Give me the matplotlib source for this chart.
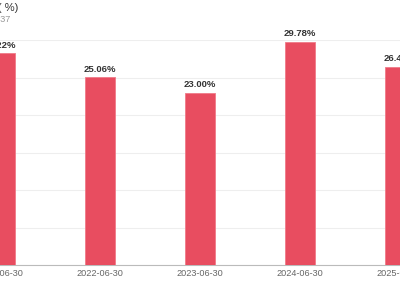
import matplotlib.pyplot as plt

plt.rcParams['font.family'] = ['Liberation Sans', 'Noto Sans CJK SC', 'DejaVu Sans']

dates = ["2021-06-30", "2022-06-30", "2023-06-30", "2024-06-30", "2025-06-30"]
values = [28.22, 25.06, 23.00, 29.78, 26.44]

bar_color = "#E84D60"

fig = plt.figure(figsize=(4, 3), dpi=100)
ax = fig.add_axes([0, 35 / 300, 1, 225 / 300])

x = list(range(len(dates)))
ax.bar(x, values, width=0.3, color=bar_color, edgecolor="#F07A88", linewidth=0.6, zorder=3)

for xi, v in zip(x, values):
    ax.text(xi, v + 0.45, f"{v:.2f}%", ha="center", va="bottom",
            fontsize=6.8, fontweight="bold", color="#333333")

ax.set_xlim(0, 4)
ax.set_ylim(0, 30)
ax.set_yticks([0, 5, 10, 15, 20, 25, 30])
ax.yaxis.grid(True, color="#eeeeee", linewidth=0.8, zorder=0)
ax.set_yticklabels([])
ax.tick_params(axis="y", length=0)
ax.set_xticks(x)
ax.set_xticklabels(dates, fontsize=6.6, color="#666666")
ax.tick_params(axis="x", length=0, pad=3)

for side in ["top", "right", "left"]:
    ax.spines[side].set_visible(False)
ax.spines["bottom"].set_color("#bbbbbb")
ax.spines["bottom"].set_linewidth(0.8)

fig.text(18 / 400, 1 - 7 / 300, "净资产收益率 ( %)", ha="right", va="center",
         fontsize=8, color="#333333")
fig.text(10 / 400, 1 - 19 / 300, "代码 600037", ha="right", va="center",
         fontsize=6.6, color="#999999")

fig.savefig("out.png", dpi=100)
